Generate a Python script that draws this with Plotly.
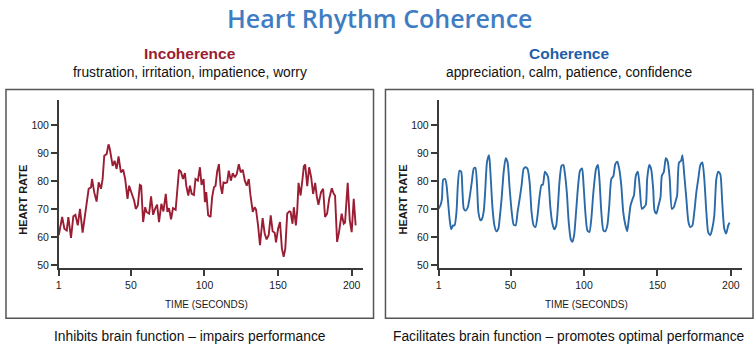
import plotly.graph_objects as go

W, H = 756, 350

# ---------------- data ----------------
time_incoherence = [1.0, 3.3, 4.8, 6.4, 7.5, 9.3, 10.9, 12.3, 13.9, 15.4, 17.2, 19.5, 21.3, 22.9, 23.6,
                    25.1, 26.7, 28.1, 29.7, 30.8, 31.9, 33.5, 34.8, 35.7, 37.6, 38.9, 40.3, 41.6, 43.2,
                    44.8, 46.1, 47.7, 48.8, 50.6, 52.2, 53.3, 54.7, 56.1, 57.0, 58.3, 59.7, 60.6, 62.4,
                    63.7, 65.1, 66.4, 67.8, 69.1, 70.7, 72.1, 73.7, 74.8, 75.9, 77.3, 78.6, 80.4, 81.6,
                    82.7, 84.0, 85.4, 86.7, 87.6, 89.0, 90.1, 91.3, 92.8, 93.9, 95.5, 96.9, 98.0, 99.4,
                    100.3, 101.2, 102.5, 104.1, 105.2, 106.4, 107.5, 108.6, 109.8, 110.9, 112.0, 112.9,
                    114.3, 115.4, 116.5, 117.9, 119.2, 120.6, 121.9, 123.3, 124.6, 126.0, 127.4, 128.7,
                    130.1, 131.2, 132.8, 134.1, 135.0, 136.4, 137.7, 139.5, 140.9, 142.2, 143.6, 145.0,
                    146.3, 147.7, 148.6, 150.0, 151.3, 152.6, 153.8, 154.9, 156.2, 157.6, 158.5, 159.8,
                    160.7, 162.1, 163.0, 163.9, 165.3, 166.6, 167.5, 168.4, 169.8, 171.1, 172.5, 173.8,
                    175.2, 176.3, 177.4, 179.2, 180.6, 181.9, 183.3, 184.7, 186.5, 187.8, 188.7, 190.1,
                    191.4, 193.2, 194.6, 195.5, 197.3, 198.7, 200.0, 201.4, 202.7]
hr_incoherence = [60.7, 67.2, 63.0, 62.4, 67.2, 59.7, 67.5, 68.0, 64.2, 70.1, 61.6, 71.3, 77.3, 77.8, 80.8,
                  76.0, 72.7, 79.6, 77.3, 80.8, 89.1, 89.7, 93.2, 91.5, 85.5, 87.3, 84.4, 88.9, 83.2,
                  84.1, 80.8, 73.7, 78.4, 75.5, 73.1, 70.1, 71.3, 78.7, 78.4, 65.4, 70.7, 69.0, 68.4,
                  74.6, 68.0, 70.1, 71.6, 65.4, 71.9, 69.2, 75.5, 69.0, 70.4, 66.4, 70.4, 69.8, 77.3,
                  84.1, 83.4, 80.8, 82.9, 78.4, 74.9, 78.4, 75.5, 75.1, 80.8, 80.2, 85.0, 78.7, 80.8,
                  72.5, 76.1, 67.8, 67.2, 74.3, 77.8, 78.4, 83.4, 86.1, 78.4, 75.5, 79.6,
                  79.4, 79.6, 83.8, 80.2, 82.9, 81.4, 82.5, 86.1, 83.2, 84.1, 80.2, 78.4,
                  80.8, 75.1, 69.0, 70.7, 69.9, 64.2, 57.1, 66.8, 61.3, 59.2, 60.7, 67.8,
                  62.1, 61.6, 58.1, 63.0, 65.4, 55.9, 53.0, 55.9, 68.4, 69.2, 69.0, 64.8,
                  70.7, 64.2, 69.5, 79.4, 74.9, 80.8, 85.3, 86.0, 78.2, 85.0, 81.4, 75.5,
                  79.4, 74.6, 71.6, 76.1, 77.3, 67.2, 68.4, 73.7, 77.5, 75.5, 74.9, 58.3,
                  61.8, 68.4, 64.8, 65.2, 79.4, 66.0, 61.8, 73.7, 64.2]

time_coherence = [1.0, 2.4, 3.3, 4.2, 5.5, 6.4, 7.3, 8.5, 9.6, 10.9, 11.9, 13.2, 14.1, 15.2, 16.4, 17.3,
                  18.2, 19.5, 20.9, 22.0, 23.6, 25.0, 26.1, 27.2, 28.1, 29.5, 30.6, 31.8, 32.7, 34.0,
                  35.4, 36.3, 37.6, 39.0, 40.3, 41.7, 42.6, 43.9, 45.3, 46.7, 48.0, 49.4, 50.8, 52.1,
                  53.5, 54.8, 56.2, 57.5, 58.9, 60.2, 61.6, 63.0, 64.3, 65.7, 67.0, 68.4, 69.7, 71.1,
                  72.0, 73.4, 74.7, 75.6, 77.0, 78.3, 79.7, 81.1, 82.0, 83.3, 84.7, 86.0, 86.9, 88.3,
                  89.6, 91.0, 92.1, 93.3, 94.6, 96.0, 97.3, 98.7, 99.6, 100.9, 102.3, 103.7, 105.0,
                  106.4, 108.2, 109.5, 110.5, 111.8, 113.2, 114.5, 115.9, 117.2, 118.6, 120.0, 121.3,
                  122.7, 124.0, 125.4, 126.7, 128.1, 129.4, 130.3, 131.7, 133.1, 134.0, 135.3, 136.7,
                  138.0, 139.4, 140.8, 142.1, 143.0, 144.4, 145.7, 147.1, 148.0, 149.3, 150.7, 152.1,
                  153.0, 154.3, 155.7, 157.0, 158.4, 159.8, 161.1, 162.5, 163.4, 164.7, 166.1, 167.0,
                  168.3, 169.7, 171.1, 172.4, 173.8, 175.1, 176.5, 177.8, 179.2, 180.6, 181.9, 183.3,
                  184.6, 186.0, 187.3, 188.7, 190.1, 191.4, 192.8, 194.1, 195.5, 196.8, 198.2, 199.1]
hr_coherence = [70.1, 71.6, 73.7, 80.6, 80.8, 78.7, 73.7, 66.6, 62.8, 64.2, 64.2, 69.0, 78.4, 83.8, 83.4, 76.1,
                70.1, 69.5, 70.7, 73.7, 79.6, 84.6, 84.8, 78.4, 69.0, 66.0, 66.6, 69.5, 76.1, 87.0,
                89.3, 83.2, 71.3, 64.2, 62.1, 63.0, 66.6, 73.7, 83.2, 88.2, 86.7, 77.3, 69.0, 64.5,
                64.2, 69.0, 73.7, 78.4, 84.4, 85.0, 84.4, 79.6, 69.0, 64.2, 63.6, 67.8, 74.3, 78.7,
                78.7, 83.4, 82.5, 81.4, 71.3, 65.4, 62.8, 64.2, 69.0, 79.6, 85.5, 85.8, 83.2, 76.1,
                65.4, 59.2, 58.3, 60.7, 69.0, 78.4, 83.8, 84.6, 79.6, 69.0, 62.4, 61.8, 66.6,
                76.1, 84.4, 85.8, 80.8, 69.0, 62.4, 62.1, 64.2, 71.3, 80.8, 81.8, 86.1,
                87.0, 84.4, 78.4, 69.0, 64.5, 62.1, 65.4, 71.3, 73.7, 74.9, 82.0, 83.4,
                77.3, 70.1, 70.7, 71.6, 80.8, 85.8, 84.4, 77.3, 69.5, 68.4, 71.3, 74.3,
                82.0, 83.2, 88.2, 87.0, 80.8, 70.1, 70.7, 73.1, 74.9, 86.7, 87.3, 89.3,
                82.0, 73.7, 65.4, 63.6, 64.2, 69.0, 76.1, 80.8, 85.8, 86.7, 80.8, 69.0,
                61.6, 60.7, 63.0, 67.8, 80.8, 83.4, 82.5, 72.5, 63.0, 61.3, 64.2, 65.2]

x_ticks = [1, 50, 100, 150, 200]
y_ticks = [50, 60, 70, 80, 90, 100]

main_title = "Heart Rhythm Coherence"
panel_titles = ["Incoherence", "Coherence"]
panel_subtitles = ["frustration, irritation, impatience, worry",
                   "appreciation, calm, patience, confidence"]
panel_footers = ["Inhibits brain function \u2013 impairs performance",
                 "Facilitates brain function \u2013 promotes optimal performance"]

# ---------------- styles ----------------
RED = "#9b1d33"
BLUE = "#2a6aa8"
TITLE_BLUE = "#3f7dc3"
HEAD_BLUE = "#1f5ea8"
AX = "#3a3a3a"
FONT = "Liberation Sans, Arial, sans-serif"


def px(x):
    return x / W


def py(y):
    return 1 - y / H


fig = go.Figure()
fig.add_trace(go.Scatter(x=time_incoherence, y=hr_incoherence, mode="lines",
                         line=dict(color=RED, width=1.9), xaxis="x", yaxis="y",
                         hoverinfo="skip"))
fig.add_trace(go.Scatter(x=time_coherence, y=hr_coherence, mode="lines",
                         line=dict(color=BLUE, width=1.9, shape="spline", smoothing=0.6),
                         xaxis="x2", yaxis="y2", hoverinfo="skip"))

xr = [1, 207.4]
yr = [48.8, 108.9]
axis_common = dict(showline=True, linecolor=AX, linewidth=1.5, ticks="outside",
                   ticklen=6, tickwidth=1.5, tickcolor=AX, showgrid=False, zeroline=False,
                   tickfont=dict(family=FONT, size=10.5, color="#1a1a1a"), fixedrange=True)

panels = [(56, 361), (437.3, 741.7)]
y_top, y_bot = 101, 270

fig.update_layout(
    width=W, height=H, margin=dict(l=0, r=0, t=0, b=0),
    paper_bgcolor="white", plot_bgcolor="white", showlegend=False,
    xaxis=dict(domain=[px(panels[0][0]), px(panels[0][1])], range=xr, tickvals=x_ticks,
               anchor="y", **axis_common),
    yaxis=dict(domain=[py(y_bot), py(y_top)], range=yr, tickvals=y_ticks,
               anchor="x", **axis_common),
    xaxis2=dict(domain=[px(panels[1][0]), px(panels[1][1])], range=xr, tickvals=x_ticks,
                anchor="y2", **axis_common),
    yaxis2=dict(domain=[py(y_bot), py(y_top)], range=yr, tickvals=y_ticks,
                anchor="x2", **axis_common),
)

boxes = [(3, 372), (384, 753)]
shapes = []
for (x0, x1) in boxes:
    shapes.append(dict(type="rect", xref="paper", yref="paper",
                       x0=px(x0), x1=px(x1), y0=py(320), y1=py(90),
                       line=dict(color="#555555", width=1.5), fillcolor="rgba(0,0,0,0)"))
fig.update_layout(shapes=shapes)

ann = []
ann.append(dict(text=main_title, x=px(379), y=1, xref="paper", yref="paper",
                showarrow=False, xanchor="center", yanchor="top", borderpad=0,
                font=dict(family="Open Sans, sans-serif", size=25, color=TITLE_BLUE, weight=600)))
centers = [187.5, 568.5]
head_colors = [RED, HEAD_BLUE]
for i, cx in enumerate(centers):
    ann.append(dict(text=panel_titles[i], x=px(cx), y=py(54), xref="paper", yref="paper",
                    showarrow=False, xanchor="center", yanchor="middle",
                    font=dict(family=FONT, size=15.5, color=head_colors[i], weight="bold")))
    ann.append(dict(text=panel_subtitles[i], x=px(cx), y=py(73), xref="paper", yref="paper",
                    showarrow=False, xanchor="center", yanchor="middle",
                    font=dict(family=FONT, size=13.8, color="#111111")))
    ann.append(dict(text=panel_footers[i], x=px(cx), y=py(338), xref="paper", yref="paper",
                    showarrow=False, xanchor="center", yanchor="middle",
                    font=dict(family=FONT, size=13.8, color="#111111")))
    # axis titles
    x0, x1 = panels[i]
    ann.append(dict(text="TIME (SECONDS)", x=px(x0 + 148.5), y=py(306.5),
                    xref="paper", yref="paper", showarrow=False, xanchor="center",
                    yanchor="middle", font=dict(family=FONT, size=10, color="#1a1a1a")))
    ann.append(dict(text="HEART RATE", x=px(x0 - 36), y=py(201), xref="paper", yref="paper",
                    showarrow=False, xanchor="center", yanchor="middle", textangle=-90,
                    font=dict(family=FONT, size=11, color="#1a1a1a", weight="bold")))
fig.update_layout(annotations=ann)

fig.write_html("out.html")
